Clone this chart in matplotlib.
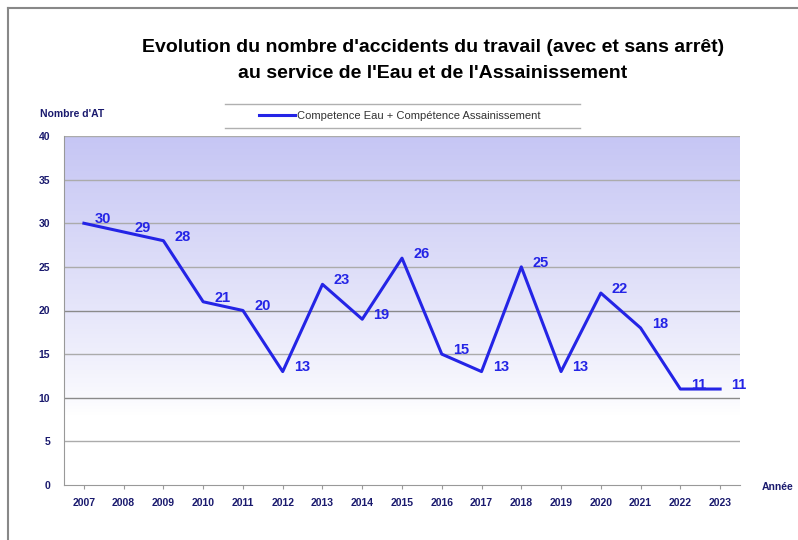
import matplotlib.pyplot as plt
import numpy as np

years = ['2007', '2008', '2009', '2010', '2011', '2012', '2013', '2014', '2015',
         '2016', '2017', '2018', '2019', '2020', '2021', '2022', '2023']
accidents = [30, 29, 28, 21, 20, 13, 23, 19, 26, 15, 13, 25, 13, 22, 18, 11, 11]
yticks = [0, 5, 10, 15, 20, 25, 30, 35, 40]

plt.rcParams['font.family'] = ['Liberation Sans', 'DejaVu Sans']
navy = '#1a1a6e'
blue = '#2424e6'

fig = plt.figure(figsize=(7.98, 5.40), dpi=100)
ax = fig.add_axes([64/798, 1-485/540, (740-64)/798, (485-136)/540])

x = np.arange(len(years))
# fond degrade violet -> blanc (blanc sous 10)
yy = np.linspace(0, 40, 256).reshape(-1, 1)
grad = np.clip((yy - 8) / 32, 0, 1) ** 0.85
cmap = plt.matplotlib.colors.LinearSegmentedColormap.from_list('g', ['#ffffff', '#c6c6f4'])
ax.imshow(grad, aspect='auto', cmap=cmap, origin='lower',
          extent=[-0.5, len(years)-0.5, 0, 40], zorder=0)

for yv in yticks[1:]:
    c = '#8a8a8a' if yv in (10, 20) else '#ababab'
    ax.axhline(yv, color=c, lw=1.0, zorder=1)

ax.plot(x, accidents, color=blue, lw=2.2, zorder=3,
        label='Competence Eau + Compétence Assainissement')
for xi, v in zip(x, accidents):
    ax.annotate(str(v), (xi, v), xytext=(8, 3), textcoords='offset points',
                color=blue, fontsize=10.5, fontweight='bold',
                ha='left', va='center', zorder=4)

ax.set_xlim(-0.5, len(years)-0.5)
ax.set_ylim(0, 40)
ax.set_xticks(x)
ax.set_xticklabels(years, fontsize=7.5, fontweight='bold', color=navy)
ax.set_yticks(yticks)
ax.set_yticklabels([str(v) for v in yticks], fontsize=7.5, fontweight='bold', color=navy)
ax.tick_params(axis='y', length=0, pad=10)
ax.tick_params(axis='x', length=3, color='#999999', pad=6)
for s in ['top', 'right']:
    ax.spines[s].set_visible(False)
ax.spines['left'].set_color('#999999')
ax.spines['bottom'].set_color('#999999')

fig.text(433/798, 1-48/540, "Evolution du nombre d'accidents du travail (avec et sans arrêt)",
         ha='center', va='center', fontsize=14, fontweight='bold')
fig.text(433/798, 1-73/540, "au service de l'Eau et de l'Assainissement",
         ha='center', va='center', fontsize=14, fontweight='bold')
fig.text(40/798, 1-114/540, "Nombre d'AT", fontsize=7.5, fontweight='bold', color=navy,
         va='center')
fig.text(762/798, 1-487/540, "Année", fontsize=7.5, fontweight='bold', color=navy,
         va='center')

leg = fig.legend(loc='center', bbox_to_anchor=(400/798, 1-116/540), fontsize=8,
                 frameon=False, handlelength=3.2, handletextpad=0.2)
for t in leg.get_texts():
    t.set_color('#333333')
# filets du cadre de legende
fig.add_artist(plt.Line2D([225/798, 580/798], [1-104/540, 1-104/540], color='#b0b0b0', lw=1))
fig.add_artist(plt.Line2D([225/798, 580/798], [1-128/540, 1-128/540], color='#b0b0b0', lw=1))

# cadre de la capture
fig.add_artist(plt.Line2D([8/798, 8/798], [0, 1-8/540], color='#888888', lw=1.5))
fig.add_artist(plt.Line2D([8/798, 1], [1-8/540, 1-8/540], color='#888888', lw=1.5))

plt.savefig('out.png', dpi=100)
